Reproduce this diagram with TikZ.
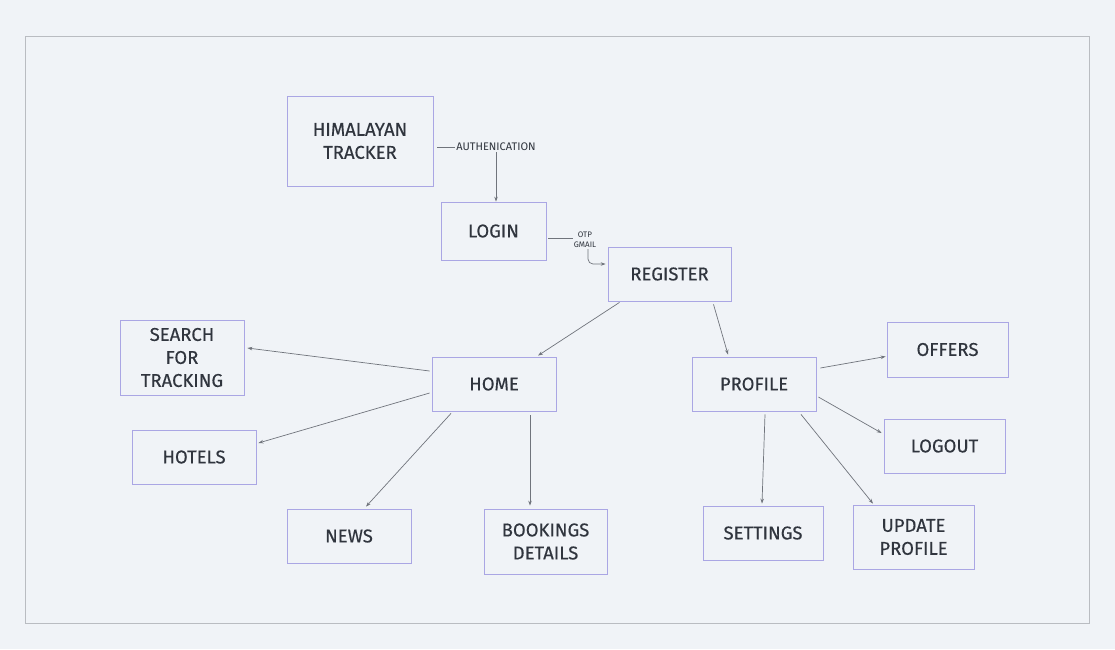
\documentclass[tikz,border=0pt]{standalone}
\usepackage{fontspec}
\setmainfont{Fira Sans}
\newfontfamily\boxfont{Fira Sans}[FakeBold=0.35]
\usetikzlibrary{arrows.meta}
\definecolor{bgcol}{RGB}{240,243,247}
\definecolor{framecol}{RGB}{185,188,193}
\definecolor{boxcol}{RGB}{170,166,228}
\definecolor{txtcol}{RGB}{48,53,62}
\definecolor{linecol}{RGB}{112,116,124}

\begin{document}
\begin{tikzpicture}[x=1pt,y=-1pt,
 box/.style={draw=boxcol,line width=0.8pt,fill=bgcol,text=txtcol,minimum width=124pt,minimum height=54pt,align=center,inner sep=2pt,font=\boxfont\fontsize{18.5}{23}\selectfont},
 conn/.style={draw=linecol,line width=0.7pt},
 arr/.style={conn,-{Stealth[length=5pt,width=3.5pt]}},
 lbl/.style={text=txtcol,inner sep=1pt,align=center}]
 \fill[bgcol] (0,0) rectangle (1115,649);
 \useasboundingbox (0,0) rectangle (1115,649);
 \draw[framecol,line width=1pt] (25,36) rectangle (1089,623);

 \node[box,minimum width=146pt,minimum height=90pt] (tracker) at (360,141) {HIMALAYAN\\TRACKER};
 \node[box,minimum width=105pt,minimum height=58pt] (login) at (493.5,231) {LOGIN};
 \node[box,minimum width=123pt] (register) at (669.5,274) {REGISTER};
 \node[box,minimum height=75pt] (search) at (182,357.5) {SEARCH\\FOR\\TRACKING};
 \node[box] (home) at (494,384) {HOME};
 \node[box] (hotels) at (194,457) {HOTELS};
 \node[box] (news) at (349,536) {NEWS};
 \node[box,minimum width=123pt,minimum height=65pt] (bookings) at (545.5,541.5) {BOOKINGS\\DETAILS};
 \node[box] (profile) at (754,384) {PROFILE};
 \node[box,minimum width=121pt,minimum height=55pt] (offers) at (947.5,349.5) {OFFERS};
 \node[box,minimum width=121pt] (logout) at (944.5,446) {LOGOUT};
 \node[box,minimum width=120pt] (settings) at (763,533) {SETTINGS};
 \node[box,minimum width=121pt,minimum height=64pt] (update) at (913.5,537) {UPDATE\\PROFILE};

 \node[lbl,font=\fontsize{11}{13}\selectfont] (auth) at (496,147) {AUTHENICATION};
 \node[lbl,font=\fontsize{8}{10}\selectfont] (otp) at (585,240) {OTP\\GMAIL};

 \draw[conn] ([xshift=4pt,yshift=-6pt]tracker.east) -- (auth.west);
 \draw[arr] (auth.south) -- (auth.south |- login.north);
 \draw[conn] ([xshift=2pt,yshift=-7pt]login.east) -- ([yshift=-7pt]login.east -| otp.west);
 \draw[arr,rounded corners=5pt] ([xshift=3pt]otp.south) |- ([xshift=-2pt,yshift=10pt]register.west);

 \draw[arr] ([xshift=-50pt,yshift=-1pt]register.south) -- ([xshift=44pt,yshift=1pt]home.north);
 \draw[arr] ([xshift=44pt,yshift=-3pt]register.south) -- ([xshift=-26pt,yshift=2pt]profile.north);

 \draw[arr] ([xshift=-2pt,yshift=13pt]home.west) -- ([xshift=3pt,yshift=9.5pt]search.east);
 \draw[arr] ([xshift=-2pt,yshift=-9pt]home.west) -- ([xshift=2pt,yshift=14pt]hotels.east);
 \draw[arr] ([xshift=-43pt,yshift=-2pt]home.south) -- ([xshift=17pt,yshift=2pt]news.north);
 \draw[arr] ([xshift=36pt,yshift=-4pt]home.south) -- ([xshift=-15.5pt,yshift=3pt]bookings.north);

 \draw[arr] ([xshift=4pt,yshift=16pt]profile.east) -- ([xshift=-1pt,yshift=-7pt]offers.west);
 \draw[arr] ([xshift=2pt,yshift=-13pt]profile.east) -- ([xshift=-2pt,yshift=13pt]logout.west);
 \draw[arr] ([xshift=11pt,yshift=-3pt]profile.south) -- ([xshift=-1pt,yshift=2pt]settings.north);
 \draw[arr] ([xshift=47pt,yshift=-3pt]profile.south) -- ([xshift=-40.5pt,yshift=1pt]update.north);
\end{tikzpicture}
\end{document}
